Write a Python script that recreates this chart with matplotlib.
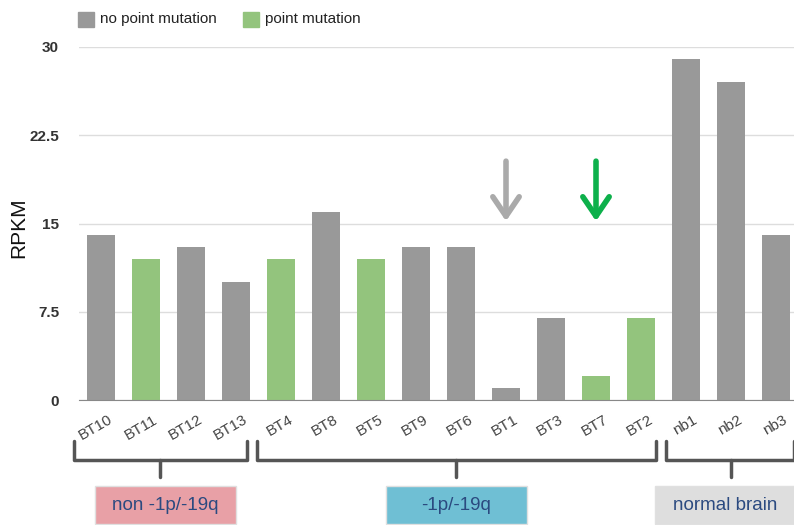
import numpy as np
import matplotlib
matplotlib.use('Agg')
import matplotlib.pyplot as plt
from matplotlib.patches import Rectangle
import matplotlib.transforms as mtransforms

plt.rcParams['font.family'] = ['Liberation Sans', 'DejaVu Sans']

samples = ['BT10', 'BT11', 'BT12', 'BT13', 'BT4', 'BT8', 'BT5', 'BT9', 'BT6',
           'BT1', 'BT3', 'BT7', 'BT2', 'nb1', 'nb2', 'nb3']
rpkm = [14, 12, 13, 10, 12, 16, 12, 13, 13, 1, 7, 2, 7, 29, 27, 14]
mutated = [0, 1, 0, 0, 1, 0, 1, 0, 0, 0, 0, 1, 1, 0, 0, 0]
groups = ['non -1p/-19q', '-1p/-19q', 'normal brain']
yticks = [0, 7.5, 15, 22.5, 30]
ytick_labels = ['0', '7.5', '15', '22.5', '30']

gray = '#999999'
green = '#93c47d'
group_colors = ['#e8a0a6', '#6fbfd4', '#dedede']

fig = plt.figure(figsize=(7.94, 5.25), dpi=100)
W, H = 794, 525
ax = fig.add_axes([78.5 / W, 1 - 400 / H, 1 - 78.5 / W, 353 / H])

x = np.arange(len(samples))
colors = [green if m else gray for m in mutated]
ax.bar(x, rpkm, width=0.62, color=colors, zorder=2)

ax.set_xlim(-0.5, 15.4)
ax.set_ylim(0, 30)
ax.set_yticks(yticks)
ax.set_yticklabels(ytick_labels, fontsize=11, fontweight='bold', color='#333333')
ax.yaxis.grid(True, color='#dddddd', lw=1, zorder=0)
for s in ['top', 'right', 'left']:
    ax.spines[s].set_visible(False)
ax.spines['bottom'].set_color('#888888')
ax.tick_params(axis='y', length=0, pad=14)
ax.tick_params(axis='x', length=0, pad=9)
ax.set_xticks(x)
ax.set_xticklabels(samples, rotation=30, ha='right', rotation_mode='anchor',
                   fontsize=11, color='#444444')
offset = mtransforms.ScaledTranslation(7 / 100, 0, fig.dpi_scale_trans)
for lbl in ax.get_xticklabels():
    lbl.set_transform(lbl.get_transform() + offset)

fig.text(19 / W, 1 - 228 / H, 'RPKM', rotation=90, fontsize=15,
         ha='center', va='center', color='#111111')

# arrows over BT1 and BT7
for xi, col in [(9, '#aaaaaa'), (11, '#0db04b')]:
    ax.annotate('', xy=(xi, 15.2), xytext=(xi, 20.3),
                arrowprops=dict(arrowstyle='->,head_width=0.95,head_length=1.4',
                                mutation_scale=10, color=col, lw=4,
                                shrinkA=0, shrinkB=0,
                                capstyle='round', joinstyle='round'))

# legend
fig.patches.append(Rectangle((78 / W, 1 - 27 / H), 16 / W, 15 / H,
                             transform=fig.transFigure, color=gray))
fig.text(100 / W, 1 - 19 / H, 'no point mutation', fontsize=11, va='center',
         color='#222222')
fig.patches.append(Rectangle((243 / W, 1 - 27 / H), 16 / W, 15 / H,
                             transform=fig.transFigure, color=green))
fig.text(265 / W, 1 - 19 / H, 'point mutation', fontsize=11, va='center',
         color='#222222')

# group brackets and labels
trans = mtransforms.blended_transform_factory(ax.transData, fig.transFigure)
br_left = [-0.6, 3.47, 12.56]
br_right = [3.24, 12.33, 15.4]
br_mid = [1.31, 7.89, 14.0]
y_top = 1 - 441 / H
y_bar = 1 - 460 / H
y_tip = 1 - 477 / H
for i, g in enumerate(groups):
    l, r, m = br_left[i], br_right[i], br_mid[i]
    ax.plot([l, l, r, r], [y_top, y_bar, y_bar, y_top], transform=trans,
            color='#555555', lw=2.5, solid_capstyle='round',
            solid_joinstyle='round', clip_on=False)
    ax.plot([m, m], [y_bar, y_tip], transform=trans, color='#555555', lw=2.5,
            solid_capstyle='round', clip_on=False)

box_x = [95, 386, 655]
for i, g in enumerate(groups):
    fig.patches.append(Rectangle((box_x[i] / W, 1 - 524 / H), 141 / W, 38 / H,
                                 transform=fig.transFigure,
                                 facecolor=group_colors[i],
                                 edgecolor='#e0e0e0', lw=1))
    fig.text((box_x[i] + 70.5) / W, 1 - 505 / H, g, fontsize=13.5,
             ha='center', va='center', color='#2b4a80')

fig.savefig('out.png', dpi=100)
